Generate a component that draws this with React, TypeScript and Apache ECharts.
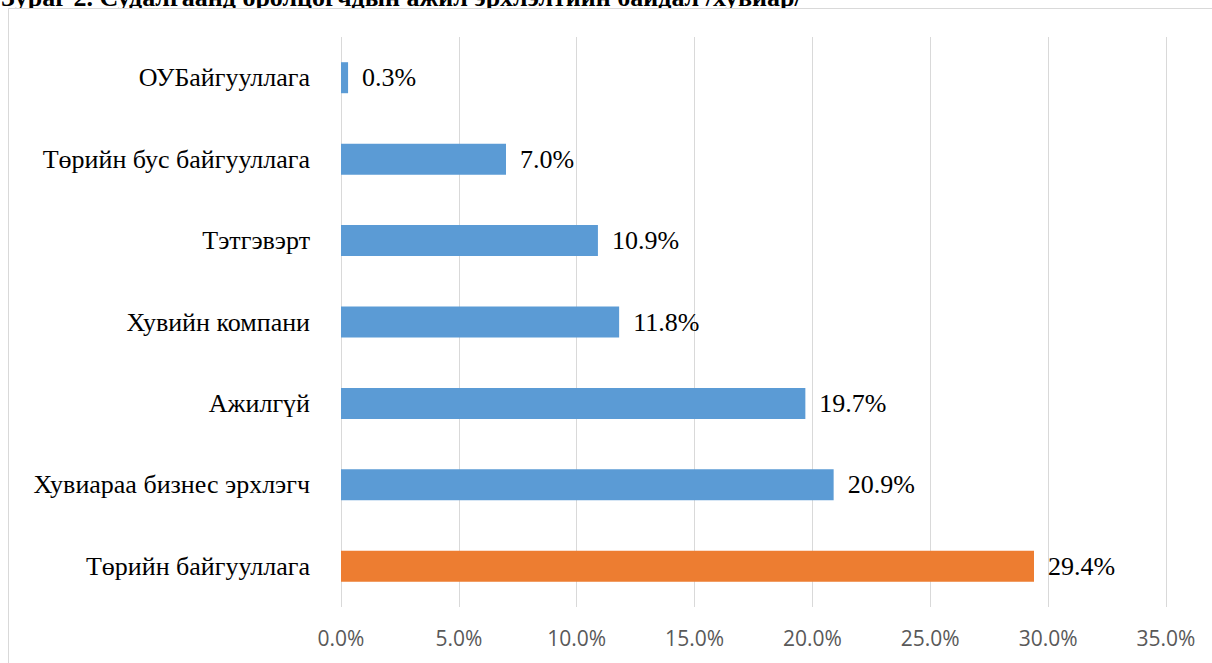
import React, { useEffect, useRef } from "react";
import * as echarts from "echarts";

const titleText = "Зураг 2. Судалгаанд оролцогчдын ажил эрхлэлтийн байдал /хувиар/";
// bottom to top
const categories = [
  "Төрийн байгууллага",
  "Хувиараа бизнес эрхлэгч",
  "Ажилгүй",
  "Хувийн компани",
  "Тэтгэвэрт",
  "Төрийн бус байгууллага",
  "ОУБайгууллага",
];
const values = [29.4, 20.9, 19.7, 11.8, 10.9, 7.0, 0.3];
const highlightIndex = 0;
const axisMin = 0;
const axisMax = 35;
const axisStep = 5;

export default function App() {
  const ref = useRef<HTMLDivElement>(null);
  useEffect(() => {
    if (!ref.current) return;
    const chart = echarts.init(ref.current, undefined, { renderer: "svg" });
    const serif = "'Liberation Serif', 'Times New Roman', serif";
    chart.setOption({
      animation: false,
      backgroundColor: "#ffffff",
      graphic: [
        {
          type: "text",
          x: 1,
          y: 10.5,
          style: {
            text: titleText,
            font: "bold 26px " + serif,
            fill: "#000",
            verticalAlign: "bottom",
            textVerticalAlign: "bottom",
          },
        },
        {
          type: "rect",
          shape: { x: 9, y: 9, width: 1300, height: 8 },
          style: { fill: "#ffffff", stroke: "none" },
        },
        {
          type: "rect",
          shape: { x: 8.5, y: 8.5, width: 1300, height: 800 },
          style: { fill: "none", stroke: "#d9d9d9", lineWidth: 1 },
        },
      ],
      grid: { left: 341, right: 46, top: 37, bottom: 56, containLabel: false },
      xAxis: {
        type: "value",
        min: axisMin,
        max: axisMax,
        interval: axisStep,
        axisLine: { show: false },
        axisTick: { show: false },
        splitLine: { show: true, lineStyle: { color: "#d9d9d9", width: 1 } },
        axisLabel: {
          formatter: (v: number) => v.toFixed(1) + "%",
          color: "#595959",
          fontFamily: "'Open Sans', 'Noto Sans', sans-serif",
          fontSize: 21,
          margin: 20,
        },
      },
      yAxis: {
        type: "category",
        data: categories,
        axisLine: { show: false },
        axisTick: { show: false },
        axisLabel: {
          color: "#000",
          fontFamily: serif,
          fontSize: 26,
          margin: 31,
        },
      },
      series: [
        {
          type: "bar",
          barWidth: 31,
          data: values.map((v, i) => ({
            value: v,
            itemStyle: { color: i === highlightIndex ? "#ED7D31" : "#5B9BD5" },
          })),
          label: {
            show: true,
            position: "right",
            distance: 14,
            formatter: (p: any) => Number(p.value).toFixed(1) + "%",
            color: "#000",
            fontFamily: serif,
            fontSize: 26,
          },
        },
      ],
    });
    return () => chart.dispose();
  }, []);
  return (
    <div
      ref={ref}
      style={{ position: "absolute", left: 0, top: 0, width: 1212, height: 663 }}
    />
  );
}
